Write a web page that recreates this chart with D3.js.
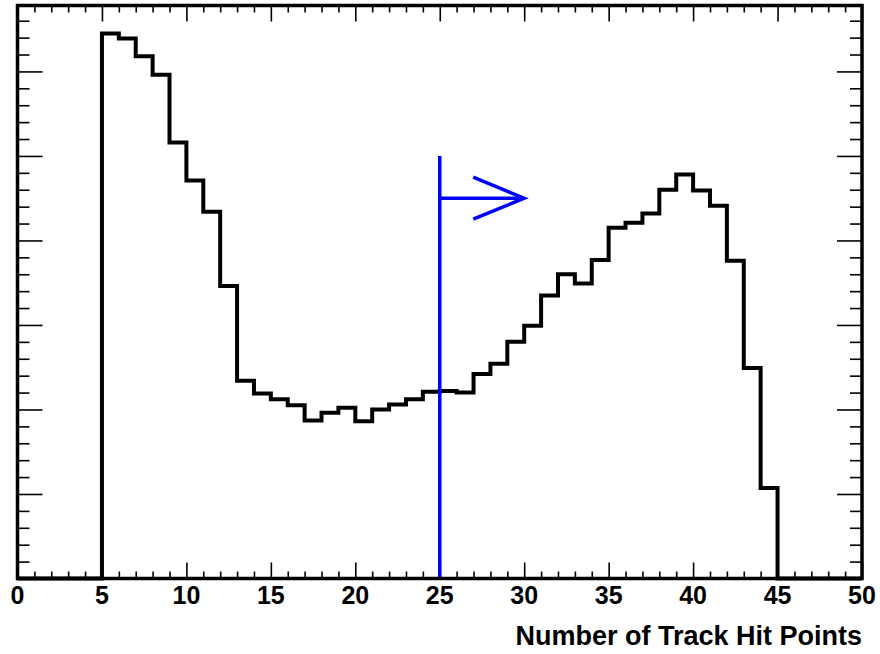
<!DOCTYPE html>
<html>
<head>
<meta charset="utf-8">
<script src="https://cdn.jsdelivr.net/npm/d3@7"></script>
<style>
  html, body { margin: 0; padding: 0; background: #fff; }
  svg { display: block; }
  text { font-family: "Liberation Sans", Arial, Helvetica, sans-serif; font-weight: bold; }
</style>
</head>
<body>
<script>
// ---- data ----
const binLowEdges = d3.range(0, 50);          // bins of width 1 from 0 to 50
const binCounts = [
  0, 0, 0, 0, 0,
  645, 639, 618, 596, 516, 471, 434, 346, 234, 219,
  212, 205, 187, 196, 202, 186, 200, 206, 212, 221,
  222, 220, 242, 254, 280, 299, 335, 360, 349, 377,
  415, 421, 432, 460, 478, 459, 441, 376, 249, 107,
  0, 0, 0, 0, 0
];
const xTickLabels = ["0", "5", "10", "15", "20", "25", "30", "35", "40", "45", "50"];
const xTitle = "Number of Track Hit Points";
const cutValue = [25];          // cut position (x)
const cutLineTop = [500];       // top of the cut line (y units)
const arrowEnd = [30];          // arrow tip (x)
const arrowLevel = [450];       // arrow height (y units)

(function () {
// ---- layout ----
const W = 880, H = 654;
const padL = 17.5, padR = 862, padT = 5.5, padB = 578.5;

const svg = d3.select("body").append("svg").attr("width", W).attr("height", H);

const x = d3.scaleLinear().domain([0, 50]).range([padL, padR]);
const y = d3.scaleLinear().domain([0, 678]).range([padB, padT]);

function drawAxis(axis, transform) {
  const g = svg.append("g").attr("transform", transform).call(axis);
  g.select(".domain").remove();
  g.selectAll("line").attr("stroke", "#000").attr("stroke-width", 1.6);
  return g;
}
const xMajor = d3.range(0, 51, 5);
const xMinor = d3.range(0, 51, 1).filter(v => v % 5 !== 0);
const yMajor = d3.range(0, 679, 100);
const yMinor = d3.range(0, 679, 20).filter(v => v % 100 !== 0);

// bottom
drawAxis(d3.axisBottom(x).tickValues(xMinor).tickSize(-7).tickFormat(""), `translate(0,${padB})`);
drawAxis(d3.axisBottom(x).tickValues(xMajor).tickSize(-16).tickFormat(""), `translate(0,${padB})`);
// top
drawAxis(d3.axisTop(x).tickValues(xMinor).tickSize(-7).tickFormat(""), `translate(0,${padT})`);
drawAxis(d3.axisTop(x).tickValues(xMajor).tickSize(-16).tickFormat(""), `translate(0,${padT})`);
// left
drawAxis(d3.axisLeft(y).tickValues(yMinor).tickSize(-12).tickFormat(""), `translate(${padL},0)`);
drawAxis(d3.axisLeft(y).tickValues(yMajor).tickSize(-25).tickFormat(""), `translate(${padL},0)`);
// right
drawAxis(d3.axisRight(y).tickValues(yMinor).tickSize(-12).tickFormat(""), `translate(${padR},0)`);
drawAxis(d3.axisRight(y).tickValues(yMajor).tickSize(-25).tickFormat(""), `translate(${padR},0)`);

// x tick labels
svg.append("g").selectAll("text")
  .data(xMajor)
  .join("text")
  .attr("x", d => x(d))
  .attr("y", 604)
  .attr("text-anchor", "middle")
  .attr("font-size", 25)
  .attr("fill", "#000")
  .text((d, i) => xTickLabels[i]);

// axis title
svg.append("text")
  .attr("x", padR)
  .attr("y", 645)
  .attr("text-anchor", "end")
  .attr("font-size", 27)
  .attr("fill", "#000")
  .text(xTitle);

// histogram outline
const pts = binLowEdges.map((e, i) => [e, binCounts[i]]);
pts.push([50, binCounts[binCounts.length - 1]]);
const line = d3.line()
  .x(d => x(d[0]))
  .y(d => y(d[1]))
  .curve(d3.curveStepAfter);
svg.append("path")
  .attr("d", line(pts))
  .attr("fill", "none")
  .attr("stroke", "#000")
  .attr("stroke-width", 4)
  .attr("stroke-linejoin", "miter");

// cut line and arrow
const blue = "#0000ff";
svg.append("line")
  .attr("x1", x(cutValue[0])).attr("x2", x(cutValue[0]))
  .attr("y1", y(0)).attr("y2", y(cutLineTop[0]))
  .attr("stroke", blue).attr("stroke-width", 3.5);
svg.append("line")
  .attr("x1", x(cutValue[0])).attr("x2", x(arrowEnd[0]))
  .attr("y1", y(arrowLevel[0])).attr("y2", y(arrowLevel[0]))
  .attr("stroke", blue).attr("stroke-width", 3.5);
const tipX = x(arrowEnd[0]), tipY = y(arrowLevel[0]);
svg.append("path")
  .attr("d", `M${tipX - 51},${tipY - 21}L${tipX},${tipY}L${tipX - 51},${tipY + 21}`)
  .attr("fill", "none")
  .attr("stroke", blue).attr("stroke-width", 3.5);

// frame
svg.append("rect")
  .attr("x", padL).attr("y", padT)
  .attr("width", padR - padL).attr("height", padB - padT)
  .attr("fill", "none")
  .attr("stroke", "#000")
  .attr("stroke-width", 3.5);
})();
</script>
</body>
</html>
